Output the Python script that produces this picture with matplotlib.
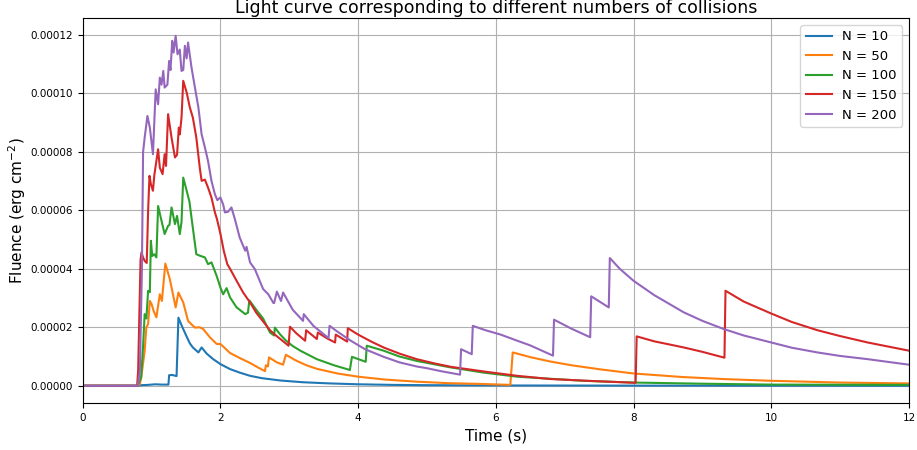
import numpy as np
import matplotlib
matplotlib.use("Agg")
import matplotlib.pyplot as plt
from matplotlib.ticker import FormatStrFormatter

# Values of fluence are given in units of 1e-5 erg cm^-2
labels = ["N = 10", "N = 50", "N = 100", "N = 150", "N = 200"]

t_n10 = [0, 0.80, 0.85, 0.95, 1.05, 1.15, 1.245, 1.255, 1.30, 1.363, 1.39, 1.43, 1.46, 1.51,
         1.556, 1.60, 1.68, 1.727, 1.80, 1.895, 2.0, 2.14, 2.28, 2.43, 2.6, 2.87, 3.2,
         3.59, 4.0, 4.5, 5.0, 6.0, 8.0, 12.0]
f_n10 = [0, 0, 0.02, 0.03, 0.05, 0.04, 0.04, 0.36, 0.37, 0.33, 2.33, 2.1, 1.94, 1.68,
         1.45, 1.31, 1.14, 1.31, 1.10, 0.91, 0.74, 0.57, 0.45, 0.34, 0.26, 0.18, 0.12,
         0.08, 0.05, 0.03, 0.02, 0.01, 0.005, 0.0]

t_n50 = [0, 0.80, 0.83, 0.85, 0.90, 0.925, 0.95, 0.975, 1.0, 1.03, 1.07, 1.12, 1.15,
         1.20, 1.265, 1.35, 1.39, 1.46, 1.53, 1.58, 1.63, 1.70, 1.75, 1.85, 1.945, 2.0,
         2.14, 2.28, 2.43, 2.55, 2.647, 2.66, 2.69, 2.705, 2.82, 2.91, 2.95, 3.1, 3.25,
         3.4, 3.7, 4.0, 4.4, 4.85, 5.3, 5.82, 6.21, 6.245, 6.5, 6.79, 7.1, 7.52, 8.0, 8.7,
         9.3, 10.0, 11.0, 12.0]
f_n50 = [0, 0, 0.05, 0.28, 1.2, 2.0, 2.11, 2.9, 2.8, 2.56, 2.34, 3.13, 2.9,
         4.18, 3.65, 2.68, 3.19, 2.85, 2.22, 2.1, 1.99, 2.0, 1.94, 1.65, 1.43, 1.43,
         1.12, 0.95, 0.78, 0.62, 0.50, 0.70, 0.66, 0.97, 0.80, 0.72, 1.06, 0.86, 0.70,
         0.58, 0.42, 0.31, 0.21, 0.14, 0.09, 0.06, 0.03, 1.14, 0.98, 0.83, 0.70, 0.56,
         0.42, 0.30, 0.23, 0.17, 0.11, 0.08]

t_n100 = [0, 0.80, 0.85, 0.88, 0.90, 0.925, 0.95, 0.975, 0.99, 1.01, 1.04, 1.07, 1.095,
          1.145, 1.19, 1.24, 1.26, 1.29, 1.34, 1.37, 1.41, 1.435, 1.46, 1.51, 1.55, 1.58,
          1.65, 1.70, 1.775, 1.82, 1.87, 1.945, 2.0, 2.04, 2.09, 2.14, 2.235, 2.28, 2.36,
          2.40, 2.42, 2.52, 2.62, 2.72, 2.78, 2.79, 2.87, 2.95, 3.05, 3.16, 3.4, 3.65,
          3.88, 3.91, 4.11, 4.125, 4.37, 4.6, 4.85, 5.34, 5.82, 6.31, 7.27, 8.0, 9.0,
          10.0, 12.0]
f_n100 = [0, 0, 0.3, 1.5, 2.45, 2.3, 3.25, 3.2, 4.96, 4.44, 4.5, 4.39, 6.15,
          5.64, 5.19, 5.47, 5.5, 6.1, 5.53, 5.81, 5.19, 5.6, 7.12, 6.67, 6.3, 5.75,
          4.5, 4.45, 4.39, 4.16, 4.22, 3.76, 3.36, 3.13, 3.34, 3.02, 2.68, 2.6, 2.45,
          2.5, 2.92, 2.6, 2.3, 1.82, 1.72, 1.99, 1.75, 1.55, 1.36, 1.2, 0.91, 0.70,
          0.54, 0.99, 0.82, 1.37, 1.2, 1.0, 0.85, 0.63, 0.45, 0.31, 0.17, 0.11, 0.07,
          0.04, 0.03]

t_n150 = [0, 0.79, 0.805, 0.84, 0.853, 0.875, 0.90, 0.93, 0.95, 0.97, 0.99, 1.02, 1.04,
          1.095, 1.12, 1.16, 1.19, 1.21, 1.24, 1.29, 1.34, 1.37, 1.396, 1.41, 1.435,
          1.46, 1.51, 1.556, 1.60, 1.65, 1.70, 1.727, 1.775, 1.82, 1.87, 1.92, 1.95,
          2.0, 2.05, 2.1, 2.14, 2.235, 2.33, 2.43, 2.52, 2.62, 2.72, 2.79, 2.87, 2.99,
          3.01, 3.1, 3.23, 3.245, 3.40, 3.415, 3.55, 3.665, 3.675, 3.84, 3.85, 4.0,
          4.2, 4.37, 4.6, 4.85, 5.1, 5.34, 5.82, 6.31, 6.79, 7.52, 8.03, 8.045, 8.3,
          8.73, 9.0, 9.32, 9.335, 9.6, 10.0, 10.3, 10.67, 11.0, 11.4, 12.0]
f_n150 = [0, 0, 0.5, 4.3, 4.56, 4.4, 4.27, 4.2, 6.0, 7.18, 6.9, 6.67, 7.2,
          8.09, 7.46, 7.24, 7.92, 7.52, 9.29, 8.49, 7.81, 7.9, 8.83, 8.6, 9.17,
          10.43, 10.03, 9.52, 9.17, 8.49, 7.46, 7.01, 7.05, 6.78, 6.44, 5.93, 5.7,
          5.2, 4.6, 4.16, 4.0, 3.59, 3.19, 2.85, 2.5, 2.2, 1.9, 1.75, 1.6, 1.37,
          2.02, 1.8, 1.54, 1.9, 1.6, 1.82, 1.62, 1.48, 1.75, 1.51, 1.97, 1.75,
          1.5, 1.31, 1.1, 0.91, 0.77, 0.65, 0.49, 0.34, 0.23, 0.15, 0.10, 1.69, 1.52,
          1.31, 1.16, 0.96, 3.25, 2.88, 2.47, 2.18, 1.9, 1.7, 1.48, 1.2]

t_n200 = [0, 0.80, 0.83, 0.86, 0.877, 0.90, 0.94, 0.975, 1.02, 1.06, 1.095, 1.12, 1.145,
          1.17, 1.19, 1.23, 1.255, 1.275, 1.30, 1.32, 1.35, 1.377, 1.41, 1.435, 1.46,
          1.484, 1.51, 1.53, 1.58, 1.63, 1.68, 1.727, 1.775, 1.82, 1.87, 1.92, 1.955,
          2.0, 2.04, 2.065, 2.11, 2.16, 2.21, 2.28, 2.36, 2.38, 2.43, 2.50, 2.62, 2.695,
          2.77, 2.78, 2.82, 2.87, 2.88, 2.91, 3.05, 3.2, 3.21, 3.35, 3.57, 3.585, 3.7,
          3.88, 4.1, 4.37, 4.6, 4.85, 5.0, 5.2, 5.48, 5.495, 5.65, 5.665, 5.85, 6.07,
          6.3, 6.5, 6.83, 6.845, 7.1, 7.37, 7.385, 7.64, 7.655, 7.8, 8.0, 8.3, 8.73,
          9.0, 9.31, 9.6, 10.0, 10.3, 10.67, 11.0, 11.4, 12.0]
f_n200 = [0, 0, 0.5, 4.0, 8.0, 8.49, 9.23, 8.83, 7.92, 10.14, 9.63, 10.54, 10.3,
          10.77, 10.2, 10.3, 11.11, 10.8, 11.8, 11.4, 11.97, 11.34, 11.5, 10.77, 10.8,
          11.63, 11.2, 11.74, 10.89, 10.2, 9.52, 8.6, 8.15, 7.69, 7.01, 6.55, 6.35,
          6.44, 6.2, 5.93, 5.95, 6.1, 5.7, 5.07, 4.62, 4.75, 4.22, 3.99, 3.31, 3.13,
          2.83, 2.83, 3.22, 2.95, 2.9, 3.19, 2.6, 2.22, 2.45, 2.05, 1.63, 2.05, 1.85,
          1.56, 1.25, 0.99, 0.8, 0.66, 0.6, 0.5, 0.38, 1.25, 1.08, 2.05, 1.9, 1.75,
          1.55, 1.38, 1.03, 2.26, 1.95, 1.66, 3.06, 2.68, 4.37, 4.0, 3.59, 3.1, 2.51,
          2.22, 1.94, 1.72, 1.48, 1.3, 1.14, 1.02, 0.91, 0.72]

times = [t_n10, t_n50, t_n100, t_n150, t_n200]
fluences = [f_n10, f_n50, f_n100, f_n150, f_n200]
colors = ["#1f77b4", "#ff7f0e", "#2ca02c", "#d62728", "#9467bd"]

fig = plt.figure(figsize=(9.17, 4.5), dpi=100)
ax = fig.add_axes([82.7 / 917, 1 - 403.3 / 450, (909 - 82.7) / 917, (403.3 - 18.3) / 450])

for t, f, c, lab in zip(times, fluences, colors, labels):
    ax.plot(t, np.array(f) * 1e-5, color=c, lw=1.5, label=lab)

ax.set_xlim(0, 12)
ax.set_ylim(-6.0e-6, 1.257e-4)
ax.set_xticks([0, 2, 4, 6, 8, 10, 12])
ax.set_yticks([0, 2e-5, 4e-5, 6e-5, 8e-5, 1e-4, 1.2e-4])
ax.yaxis.set_major_formatter(FormatStrFormatter('%.5f'))
ax.tick_params(labelsize=7.5)
ax.grid(True)
ax.set_xlabel("Time (s)", fontsize=11)
ax.set_ylabel("Fluence (erg cm$^{-2}$)", fontsize=11, labelpad=2)
ax.set_title("Light curve corresponding to different numbers of collisions", fontsize=12.5, pad=4)
ax.legend(loc="upper right", fontsize=9.5)

fig.savefig("out.png", dpi=100)
